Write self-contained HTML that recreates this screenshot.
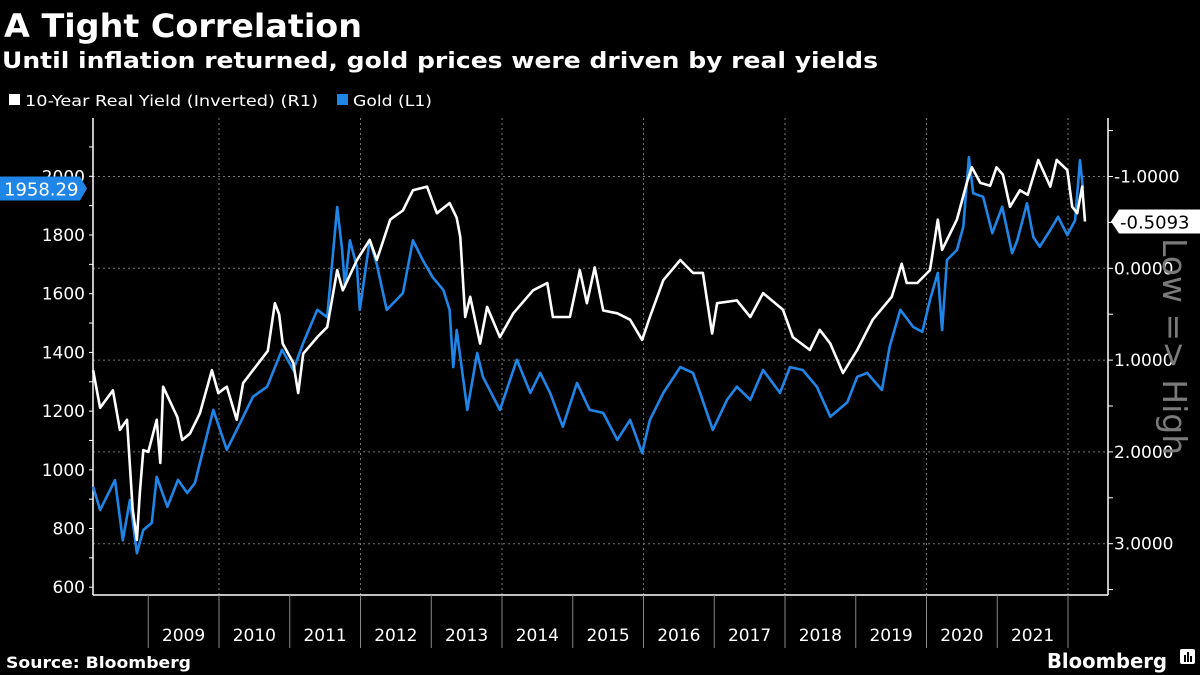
<!DOCTYPE html>
<html><head><meta charset="utf-8"><style>
html,body{margin:0;padding:0;background:#000;}
svg{display:block;font-family:"Liberation Sans","DejaVu Sans",sans-serif;}
</style></head><body>
<svg id="chart" width="1200" height="675" viewBox="0 0 1200 675">
<rect width="1200" height="675" fill="#000"/>
<text x="4" y="37" fill="#fff" font-size="32" font-weight="bold" font-family="DejaVu Sans, sans-serif" textLength="358" lengthAdjust="spacingAndGlyphs">A Tight Correlation</text>
<text x="2" y="68" fill="#fff" font-size="22" font-weight="bold" font-family="DejaVu Sans, sans-serif" textLength="876" lengthAdjust="spacingAndGlyphs">Until inflation returned, gold prices were driven by real yields</text>
<g>
<rect x="9" y="94" width="11" height="11" fill="#fff"/>
<text x="25" y="106" fill="#fff" font-size="15" font-family="DejaVu Sans, sans-serif" textLength="293" lengthAdjust="spacingAndGlyphs">10-Year Real Yield (Inverted) (R1)</text>
<rect x="337" y="94" width="11" height="11" fill="#1f86e8"/>
<text x="353" y="106" fill="#fff" font-size="15" font-family="DejaVu Sans, sans-serif" textLength="79" lengthAdjust="spacingAndGlyphs">Gold (L1)</text>
</g>
<g id="grid"></g>
<g id="axes"></g>
<g id="series"></g>
<g id="tags"></g>
<text transform="translate(1163,238) rotate(90)" fill="#7a7a7a" font-size="33" font-family="DejaVu Sans, sans-serif">Low =&gt; High</text>
<text x="6" y="668" fill="#fff" font-size="16" font-weight="bold" font-family="DejaVu Sans, sans-serif" textLength="185" lengthAdjust="spacingAndGlyphs">Source: Bloomberg</text>
<text x="1047" y="668" fill="#fff" font-size="20" font-weight="bold" font-family="DejaVu Sans, sans-serif" textLength="120" lengthAdjust="spacingAndGlyphs">Bloomberg</text>
<g><rect x="1180" y="649" width="15" height="15" rx="2" fill="#fff"/><rect x="1184" y="655" width="2" height="7" fill="#000"/><rect x="1187" y="652" width="2" height="10" fill="#000"/><rect x="1190" y="656" width="2" height="6" fill="#000"/></g>
</svg>
<script>
const years = [2009,2010,2011,2012,2013,2014,2015,2016,2017,2018,2019,2020,2021];
const goldTicks = [600,800,1000,1200,1400,1600,1800,2000];
const yieldTicks = [-1,0,1,2,3];
const goldDates = [2008.22,2008.32,2008.53,2008.64,2008.74,2008.84,2008.93,2009.05,2009.12,2009.27,2009.42,2009.55,2009.66,2009.73,2009.92,2010.11,2010.25,2010.48,2010.68,2010.89,2011.05,2011.19,2011.39,2011.53,2011.67,2011.74,2011.78,2011.85,2011.95,2011.99,2012.13,2012.23,2012.37,2012.60,2012.74,2012.88,2013.02,2013.17,2013.26,2013.31,2013.36,2013.51,2013.65,2013.73,2013.97,2014.21,2014.40,2014.54,2014.68,2014.86,2015.06,2015.24,2015.43,2015.63,2015.81,2015.98,2016.09,2016.28,2016.52,2016.70,2016.80,2016.98,2017.18,2017.32,2017.51,2017.69,2017.93,2018.07,2018.25,2018.45,2018.64,2018.88,2019.02,2019.16,2019.37,2019.48,2019.63,2019.81,2019.94,2020.05,2020.16,2020.22,2020.29,2020.43,2020.52,2020.60,2020.66,2020.80,2020.93,2021.07,2021.21,2021.28,2021.42,2021.51,2021.60,2021.75,2021.86,2021.99,2022.10,2022.17,2022.21];
const goldValues = [942,863,965,760,897,716,795,819,976,874,966,921,955,1023,1204,1068,1136,1249,1283,1409,1340,1432,1545,1520,1895,1750,1623,1782,1690,1545,1782,1700,1545,1602,1782,1714,1656,1613,1545,1350,1476,1204,1398,1317,1204,1375,1262,1330,1262,1147,1296,1204,1194,1102,1170,1057,1170,1262,1350,1330,1262,1136,1238,1283,1238,1340,1262,1350,1340,1283,1181,1230,1317,1330,1272,1420,1545,1487,1470,1579,1671,1476,1715,1749,1828,2065,1942,1930,1806,1896,1738,1780,1908,1793,1760,1817,1862,1800,1850,2055,1958.29];
const yieldDates = [2008.22,2008.32,2008.50,2008.60,2008.70,2008.78,2008.84,2008.88,2008.93,2009.00,2009.12,2009.17,2009.21,2009.41,2009.48,2009.59,2009.73,2009.90,2009.99,2010.11,2010.25,2010.34,2010.48,2010.62,2010.69,2010.79,2010.85,2010.90,2011.05,2011.12,2011.19,2011.39,2011.53,2011.67,2011.75,2011.95,2012.13,2012.23,2012.42,2012.60,2012.74,2012.94,2013.08,2013.26,2013.36,2013.41,2013.48,2013.55,2013.69,2013.79,2013.97,2014.16,2014.44,2014.64,2014.72,2014.96,2015.10,2015.20,2015.31,2015.43,2015.63,2015.81,2015.98,2016.09,2016.28,2016.52,2016.70,2016.84,2016.97,2017.04,2017.32,2017.51,2017.69,2017.97,2018.11,2018.35,2018.49,2018.64,2018.82,2019.02,2019.24,2019.51,2019.65,2019.72,2019.87,2020.05,2020.16,2020.22,2020.43,2020.57,2020.64,2020.76,2020.90,2020.99,2021.08,2021.18,2021.32,2021.43,2021.58,2021.75,2021.84,2021.99,2022.06,2022.13,2022.20,2022.24];
const yieldValues = [1.11,1.52,1.33,1.76,1.65,2.63,2.96,2.45,1.98,2.0,1.65,2.12,1.29,1.62,1.87,1.80,1.58,1.11,1.36,1.29,1.65,1.25,1.11,0.97,0.9,0.38,0.5,0.82,1.03,1.36,0.93,0.75,0.64,0.02,0.24,-0.09,-0.31,-0.09,-0.53,-0.63,-0.85,-0.89,-0.6,-0.71,-0.55,-0.34,0.53,0.31,0.82,0.42,0.75,0.49,0.24,0.16,0.53,0.53,0.02,0.38,-0.01,0.46,0.49,0.56,0.78,0.53,0.13,-0.09,0.05,0.05,0.71,0.38,0.35,0.53,0.27,0.45,0.75,0.89,0.67,0.82,1.14,0.89,0.56,0.31,-0.05,0.16,0.16,0.02,-0.53,-0.2,-0.53,-0.93,-1.1,-0.93,-0.9,-1.1,-1.02,-0.67,-0.85,-0.8,-1.18,-0.89,-1.18,-1.07,-0.67,-0.6,-0.89,-0.5093];

const NS='http://www.w3.org/2000/svg';
const L=93, R=1108, T=118, B=595;
const xS = t => 219 + (t-2010)*70.75;
const yG = g => 176.3 + (2000-g)*0.2935;
const yY = r => 268.3 + r*91.8;
function mk(tag, attrs, parent){const e=document.createElementNS(NS,tag);for(const k in attrs)e.setAttribute(k,attrs[k]);parent.appendChild(e);return e;}
const grid=document.getElementById('grid'), axes=document.getElementById('axes'), series=document.getElementById('series'), tags=document.getElementById('tags');

yieldTicks.forEach(v=>{const y=yY(v);const g=mk('line',{x1:L,x2:R,y1:y,y2:y,stroke:'#777','stroke-width':1,'stroke-dasharray':'2,3'},grid);

});
[2010,2012,2014,2016,2018,2020,2022].forEach(yr=>{const x=xS(yr);const g=mk('line',{x1:x,x2:x,y1:T,y2:B,stroke:'#777','stroke-width':1,'stroke-dasharray':'2,3'},grid);

});

mk('line',{x1:L,x2:L,y1:T,y2:B,stroke:'#fff','stroke-width':1.5},axes);
mk('line',{x1:L,x2:R,y1:B,y2:B,stroke:'#fff','stroke-width':1.5},axes);
mk('line',{x1:R,x2:R,y1:T,y2:B,stroke:'#fff','stroke-width':1.5},axes);

for(let v=600; v<=2100; v+=100){const y=yG(v);mk('line',{x1:L-4,x2:L,y1:y,y2:y,stroke:'#fff','stroke-width':1},axes);}
goldTicks.forEach(v=>{const t=mk('text',{x:85,y:yG(v)+6,fill:'#fff','font-size':17,'text-anchor':'end','font-family':'DejaVu Sans, sans-serif'},axes);t.textContent=v;

});
for(let v=-1.5; v<=3.5; v+=0.5){const y=yY(v);mk('line',{x1:R,x2:R+5,y1:y,y2:y,stroke:'#fff','stroke-width':1},axes);}
yieldTicks.forEach(v=>{const t=mk('text',{x:R+6,y:yY(v)+6,fill:'#fff','font-size':17,'font-family':'DejaVu Sans, sans-serif'},axes);t.textContent=(v<0?'-':'')+Math.abs(v).toFixed(4);

});
years.concat([2022]).forEach(yr=>{const x=xS(yr);mk('line',{x1:x,x2:x,y1:B,y2:648,stroke:'#888','stroke-width':1},axes);});
years.forEach(yr=>{const t=mk('text',{x:xS(yr+0.5),y:641,fill:'#fff','font-size':17,'text-anchor':'middle','font-family':'DejaVu Sans, sans-serif'},axes);t.textContent=yr;

});

function line(dates, vals, yf, color, name){
  const d=dates.map((t,i)=>(i?'L':'M')+xS(t).toFixed(1)+','+yf(vals[i]).toFixed(1)).join('');
  const p=mk('path',{d:d,fill:'none',stroke:color,'stroke-width':2.6,'stroke-linejoin':'round'},series);
  
  
}
line(goldDates, goldValues, yG, '#1f86e8', 'gold-line');
line(yieldDates, yieldValues, yY, '#ffffff', 'real-yield-line');

const gLast=goldValues[goldValues.length-1], yLast=yieldValues[yieldValues.length-1];
const gy=yG(gLast);
const gt=mk('path',{d:`M0,${gy-12}H80L87,${gy}L80,${gy+12}H0Z`,fill:'#1f86e8'},tags);


const gtx=mk('text',{x:4,y:gy+7,fill:'#fff','font-size':18,'font-family':'DejaVu Sans, sans-serif'},tags);gtx.textContent=gLast.toFixed(2);


const yy=yY(yLast);
const yt=mk('path',{d:`M1111,${yy}L1119,${yy-12}H1200V${yy+12}H1119Z`,fill:'#fff'},tags);


const ytx=mk('text',{x:1120,y:yy+7,fill:'#000','font-size':18,'font-family':'DejaVu Sans, sans-serif'},tags);ytx.textContent=yLast.toFixed(4);


</script>
</body></html>
